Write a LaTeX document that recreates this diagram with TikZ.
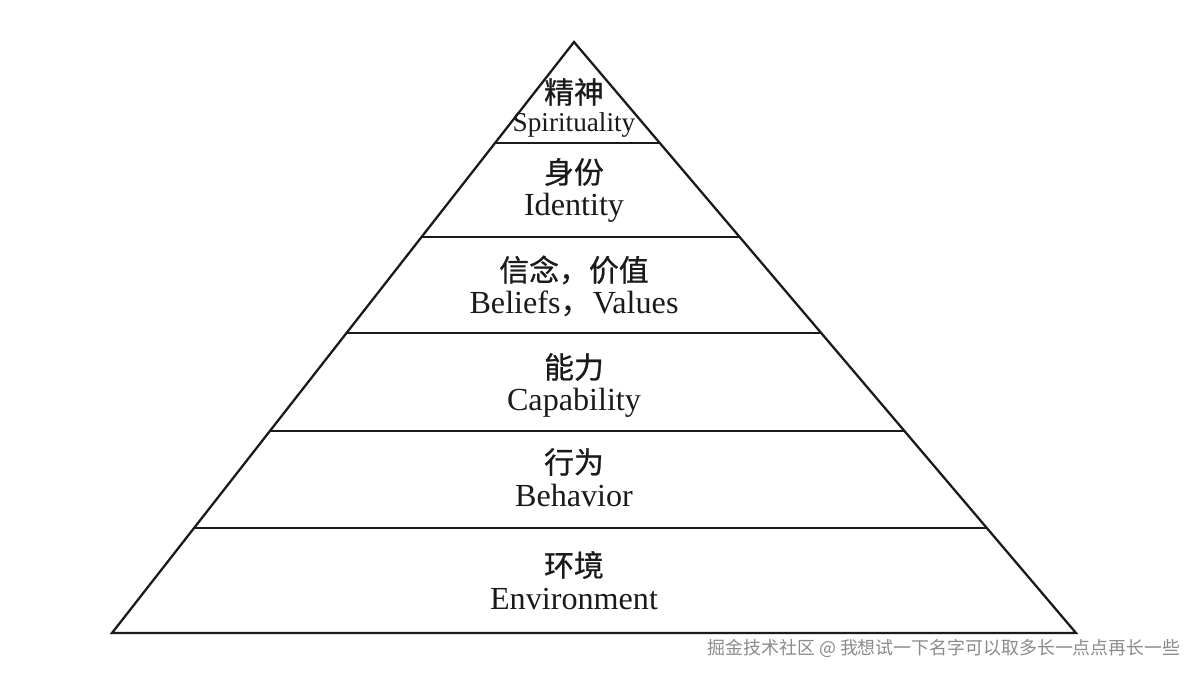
\documentclass[tikz,border=0pt]{standalone}
\usepackage{fontspec}
\setmainfont{Liberation Serif}
\newfontfamily\cjk{Noto Sans CJK SC}
\newfontfamily\cjkheavy[FakeBold=0.8]{Noto Sans CJK SC}
\usepackage{xcolor}
\definecolor{pyrLine}{HTML}{1A1A1A}
\definecolor{markGray}{HTML}{8A8A8A}
\usetikzlibrary{calc}

\begin{document}
\begin{tikzpicture}[
		x=0.02cm, y=-0.02cm,
		edge/.style={draw=pyrLine, line width=1.3pt, line join=miter},
		cnlabel/.style={inner sep=0pt, text=pyrLine, font=\cjkheavy\fontsize{17}{20}\selectfont},
		enlabel/.style={inner sep=0pt, anchor=base, text=pyrLine},
		watermark/.style={inner sep=0pt, text=markGray, font=\cjk\fontsize{10.2}{12}\selectfont}
		]
		\useasboundingbox (0,0) rectangle (1200,675);
		
		\coordinate (top) at (574,42);
		\coordinate (bl) at (112,633);
		\coordinate (br) at (1076,633);
		
		\draw[edge] (top) -- (bl) -- (br) -- cycle;
		\foreach \t in {0.171,0.330,0.492,0.658,0.822}
			\draw[edge] ($(top)!\t!(bl)$) -- ($(top)!\t!(br)$);
		
		\foreach \name/\cn/\en/\y/\fs/\dy in {
				spirit/精神/Spirituality/92/15.5/40,
				ident/身份/Identity/172/18.3/44,
				belief/{信念，价值}/{Beliefs{\cjk ，}Values}/270/18.3/44,
				capab/能力/Capability/367/18.3/44,
				behav/行为/Behavior/462/18.3/44,
				envir/环境/Environment/565/18.3/44}{
			\node[cnlabel] (\name-cn) at (574,\y) {\cn};
			\node[enlabel, font=\fontsize{\fs}{21}\selectfont] (\name-en) at (574,\y+\dy) {\en};
		}
		
		\node[watermark] (wmark) at (944,648) {掘金技术社区 @ 我想试一下名字可以取多长一点点再长一些};
		
	\end{tikzpicture}
\end{document}
